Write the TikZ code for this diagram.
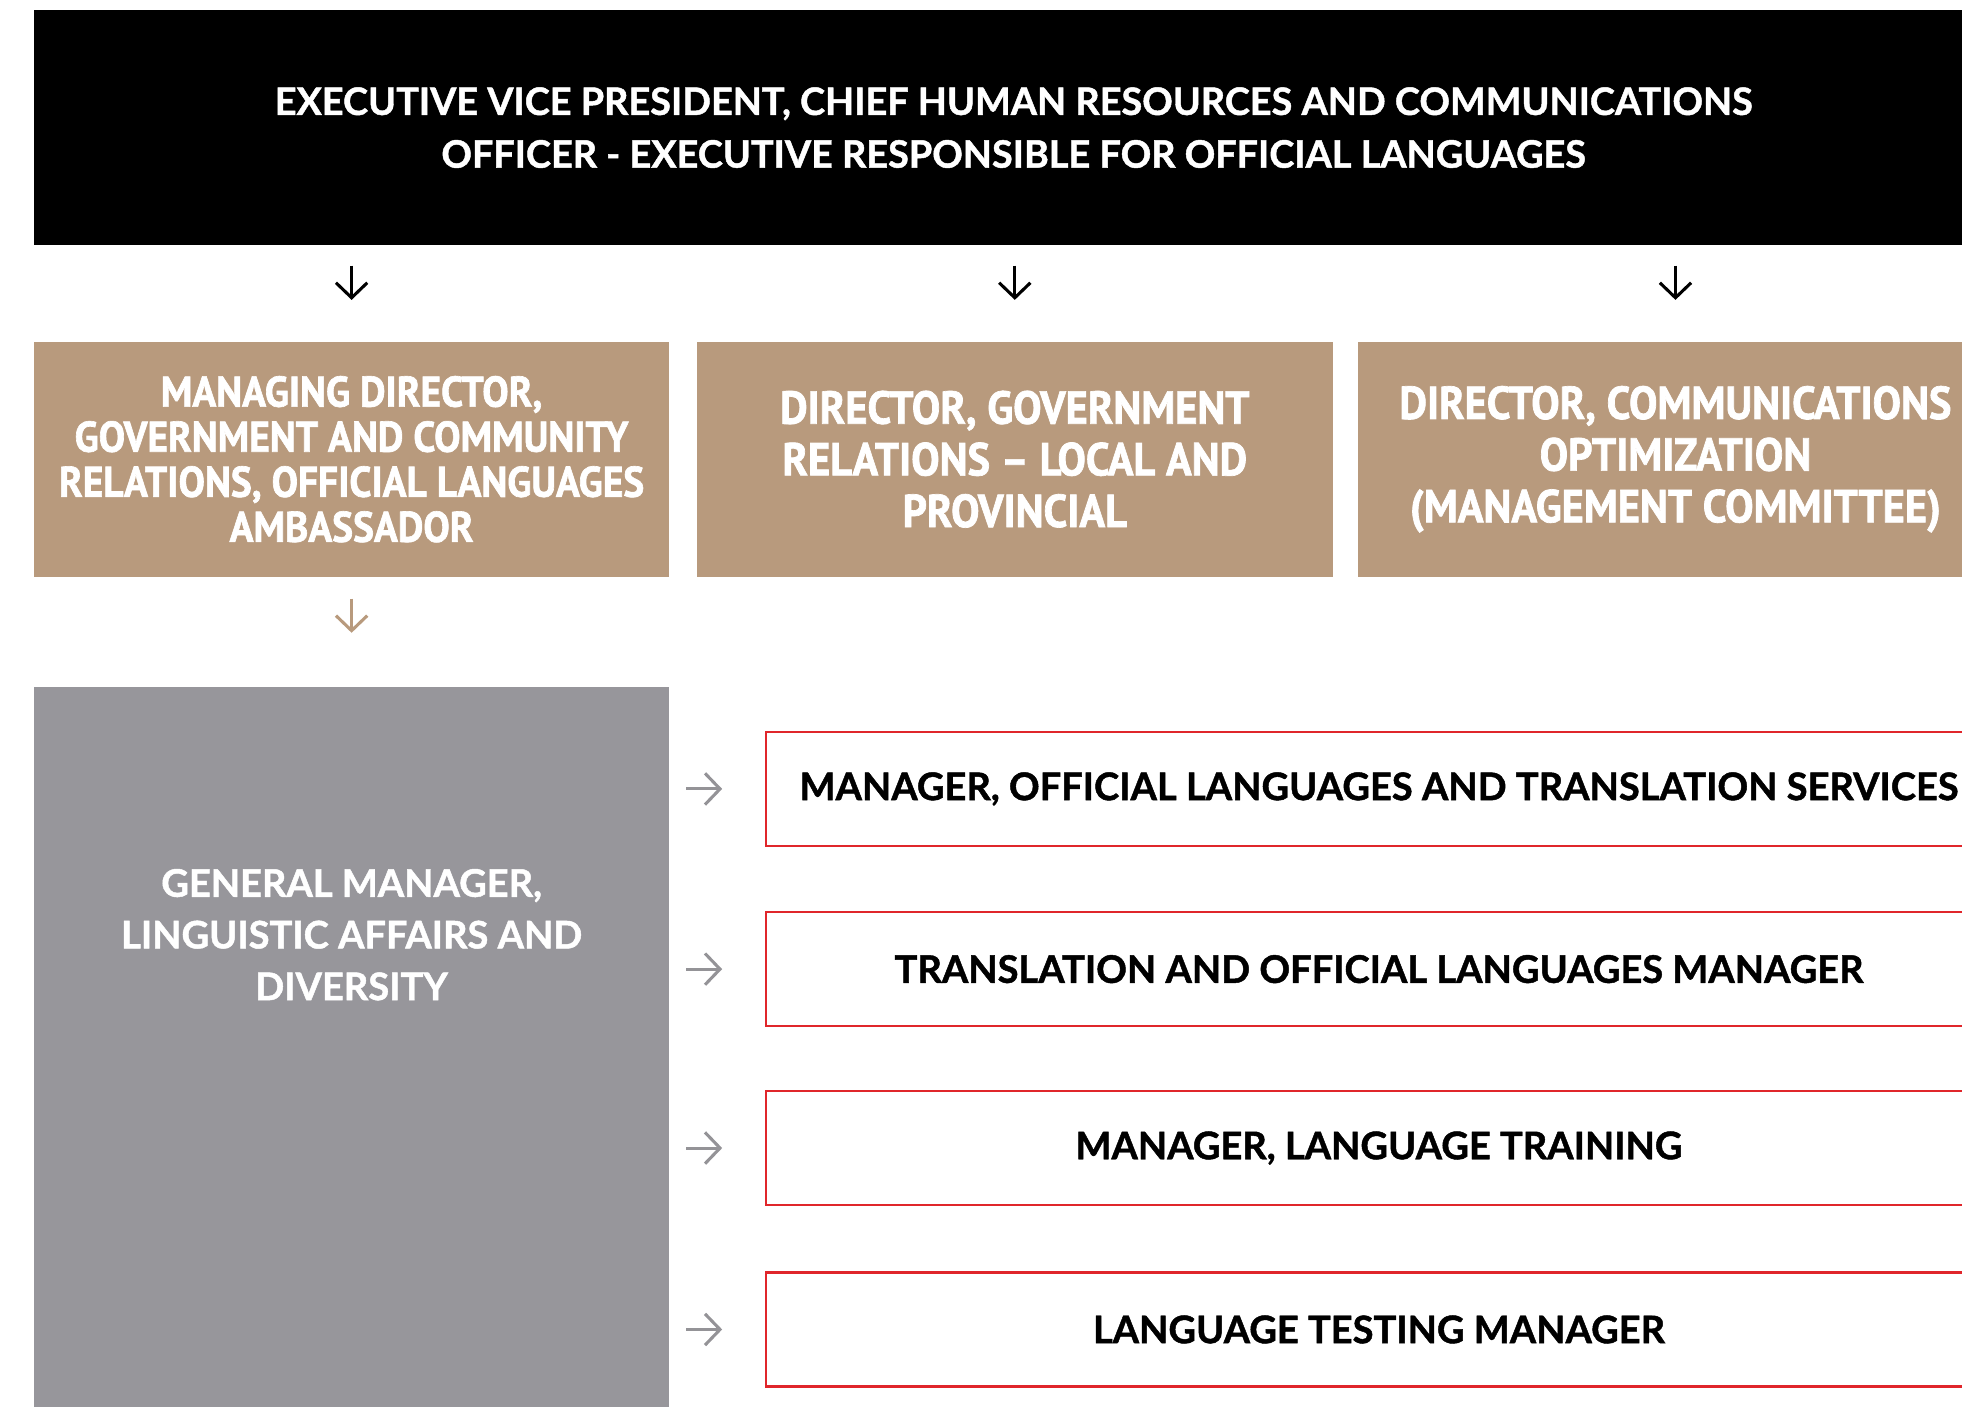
\documentclass[tikz,border=0pt]{standalone}
\usepackage{fontspec}
\setmainfont{Lato}[BoldFeatures={FakeBold=1.2}]
\newfontfamily\narrowfont{PT Sans}[BoldFont={PT Sans Bold}, BoldFeatures={FakeBold=1.5}, FakeStretch=0.92]
\usetikzlibrary{arrows.meta}
\definecolor{dirbrown}{HTML}{B89A7D}
\definecolor{gmgray}{HTML}{97969B}
\definecolor{mgrred}{HTML}{E0262B}
\definecolor{arrowgray}{HTML}{949397}

\begin{document}
\begin{tikzpicture}[x=0.02cm, y=-0.02cm,
        topbox/.style={rectangle, fill=black, text=white, align=center, inner sep=0pt,
            minimum width=31.32cm, minimum height=3.76cm,
            font=\bfseries\fontsize{17.2}{24}\selectfont},
        dirbox/.style={rectangle, fill=dirbrown, text=white, align=center, inner sep=0pt,
            minimum width=10.16cm, minimum height=3.76cm,
            font=\narrowfont\bfseries\fontsize{21}{23.5}\selectfont},
        gmbox/.style={rectangle, fill=gmgray, inner sep=0pt,
            minimum width=10.16cm, minimum height=11.82cm},
        gmtext/.style={text=white, align=center,
            font=\bfseries\fontsize{17.3}{23.5}\selectfont},
        mgrbox/.style={rectangle, draw=mgrred, line width=1.1pt, fill=white, align=center,
            minimum width=19.6cm, minimum height=1.82cm,
            font=\bfseries\fontsize{17.3}{24}\selectfont},
        downarrow/.style={-{Straight Barb[length=0.24cm, width=0.5cm]}, line width=1.4pt,
            shorten <=0.32cm, shorten >=0.66cm},
        rightarrow/.style={-{Straight Barb[length=0.24cm, width=0.5cm]}, line width=1.4pt,
            draw=arrowgray, shorten <=0.26cm, shorten >=0.68cm}
    ]
        \useasboundingbox (0, 0) rectangle (1568, 1124);
        \clip (0, 0) rectangle (1568, 1124);

        \node[topbox] (evp) at (810, 102) {EXECUTIVE VICE PRESIDENT, CHIEF HUMAN RESOURCES AND COMMUNICATIONS\\
            OFFICER - EXECUTIVE RESPONSIBLE FOR OFFICIAL LANGUAGES};

        \node[dirbox, font=\narrowfont\bfseries\fontsize{19.5}{20.5}\selectfont] (dir1) at (281, 367)
            {MANAGING DIRECTOR,\\GOVERNMENT AND COMMUNITY\\RELATIONS, OFFICIAL LANGUAGES\\AMBASSADOR};
        \node[dirbox] (dir2) at (811, 367) {DIRECTOR, GOVERNMENT\\RELATIONS – LOCAL AND\\PROVINCIAL};
        \node[dirbox] (dir3) at (1339, 367) {DIRECTOR, COMMUNICATIONS\\OPTIMIZATION\\(MANAGEMENT COMMITTEE)};

        \foreach \d in {dir1, dir2, dir3}
            \draw[downarrow] (evp.south -| \d) -- (\d.north);

        \node[gmbox] (gm) at (281, 844.5) {};
        \node[gmtext] (gmlabel) at (281, 747) {GENERAL MANAGER,\\LINGUISTIC AFFAIRS AND\\DIVERSITY};
        \draw[downarrow, draw=dirbrown, shorten <=0.34cm, shorten >=0.86cm] (dir1.south) -- (gm.north);

        \foreach \y/\name/\txt in {630.5/mgr1/{MANAGER, OFFICIAL LANGUAGES AND TRANSLATION SERVICES},
                774.5/mgr2/{TRANSLATION AND OFFICIAL LANGUAGES MANAGER},
                917.5/mgr3/{MANAGER, LANGUAGE TRAINING},
                1062.5/mgr4/{LANGUAGE TESTING MANAGER}} {
            \node[mgrbox] (\name) at (1102, \y) {\txt};
            \draw[rightarrow] (gm.east |- \name.west) -- (\name.west);
        }
    \end{tikzpicture}
\end{document}
